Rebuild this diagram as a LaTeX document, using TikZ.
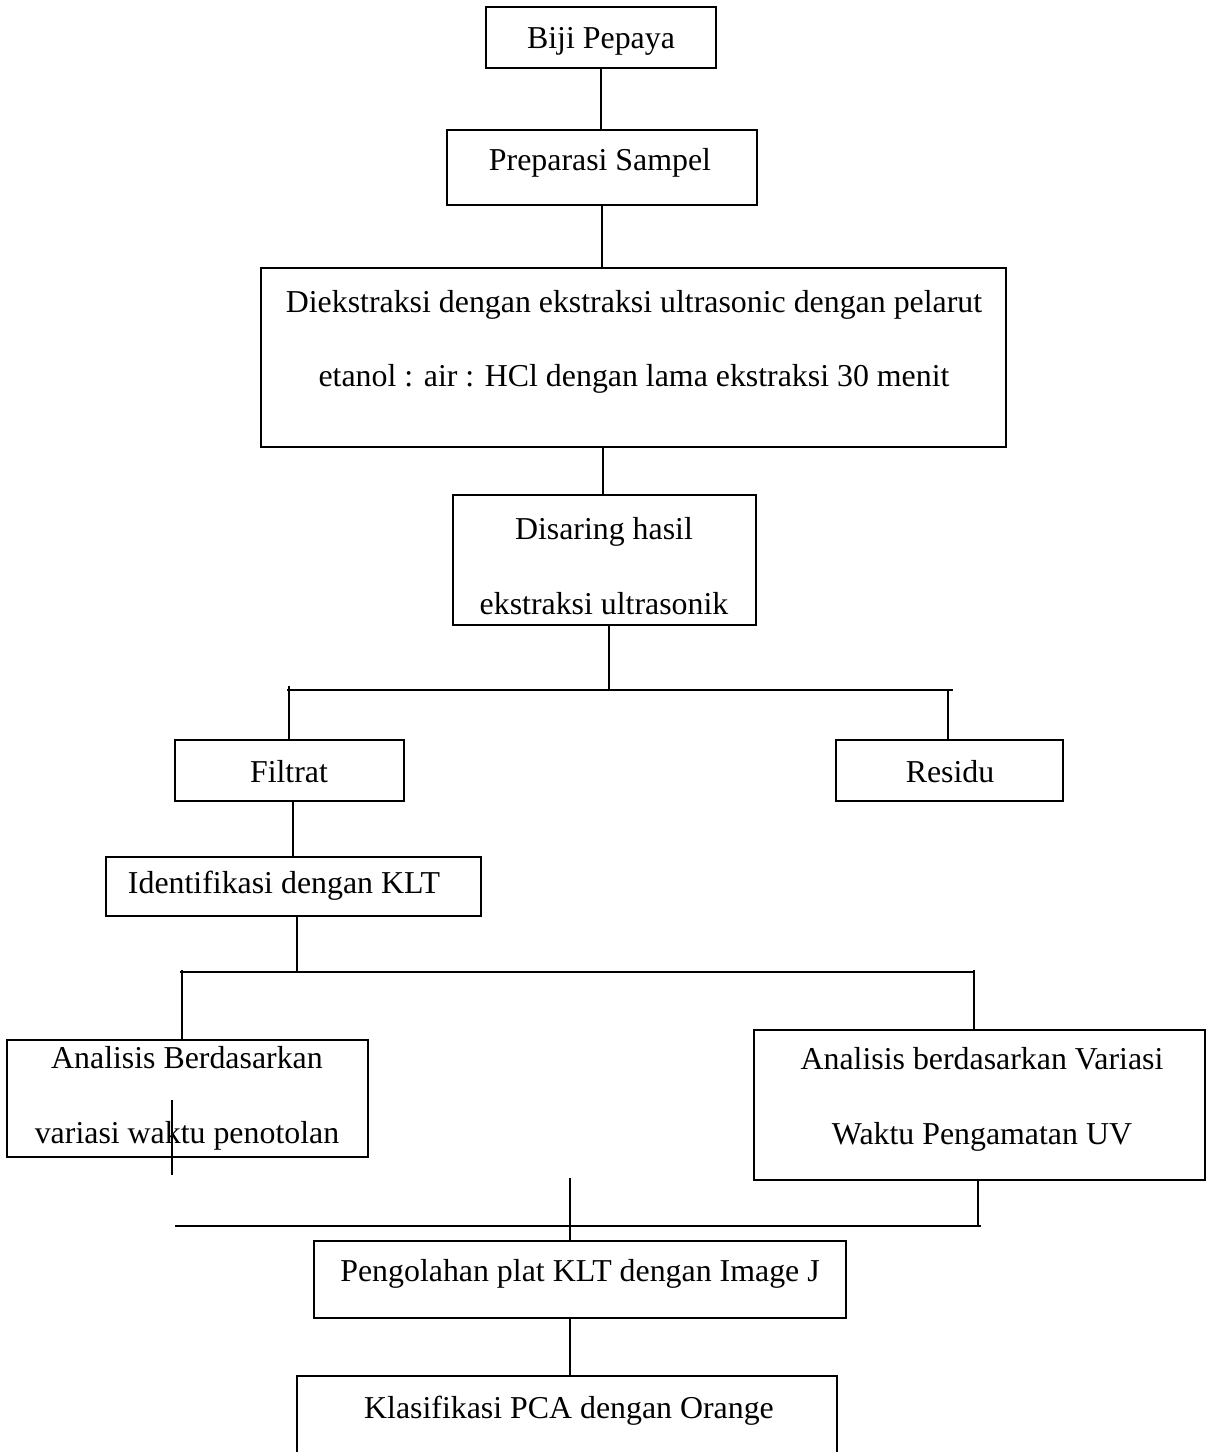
\documentclass[tikz,border=0pt]{standalone}
\usepackage{fontspec}
\setmainfont{Liberation Serif}
\usetikzlibrary{positioning,calc}
\newcommand{\pxl}{0.408pt}
\tikzset{
    flowbox/.style={draw=black,line width=0.9pt,rectangle,inner sep=0pt},
    boxtext/.style={font=\fontsize{13}{30.5}\selectfont,align=center,inner sep=0pt},
    linkline/.style={draw=black,line width=0.45pt}
}

\begin{document}
\begin{tikzpicture}[x=\pxl,y=-\pxl]
  \useasboundingbox (0,0) rectangle (1207,1452);
  % boxes
  \node[flowbox,minimum width=230*\pxl,minimum height=61*\pxl] (biji) at (601,37.5) {};
  \node[flowbox,minimum width=310*\pxl,minimum height=75*\pxl] (prep) at (602,167.5) {};
  \node[flowbox,minimum width=745*\pxl,minimum height=179*\pxl] (ekstrak) at (633.5,357.5) {};
  \node[flowbox,minimum width=303*\pxl,minimum height=130*\pxl] (saring) at (604.5,560) {};
  \node[flowbox,minimum width=229*\pxl,minimum height=61*\pxl] (filtrat) at (289.5,770.5) {};
  \node[flowbox,minimum width=227*\pxl,minimum height=61*\pxl] (residu) at (949.5,770.5) {};
  \node[flowbox,minimum width=375*\pxl,minimum height=59*\pxl] (klt) at (293.5,886.5) {};
  \node[flowbox,minimum width=361*\pxl,minimum height=117*\pxl] (waktu) at (187.5,1098.5) {};
  \node[flowbox,minimum width=451*\pxl,minimum height=150*\pxl] (uv) at (979.5,1105) {};
  \node[flowbox,minimum width=532*\pxl,minimum height=77*\pxl] (olah) at (580,1279.5) {};
  \node[flowbox,minimum width=540*\pxl,minimum height=130*\pxl] (pca) at (567,1441) {};
  % texts
  \node[boxtext] (biji-t) at (601,41) {Biji Pepaya};
  \node[boxtext] (prep-t) at (600,163) {Preparasi Sampel};
  \node[boxtext] (ekstrak-t) at (634,342) {Diekstraksi dengan ekstraksi ultrasonic dengan pelarut\\
    etanol : air : HCl dengan lama ekstraksi 30 menit};
  \node[boxtext] (saring-t) at (604,566) {Disaring hasil\\ ekstraksi ultrasonik};
  \node[boxtext] (filtrat-t) at (289,772) {Filtrat};
  \node[boxtext] (residu-t) at (950,772) {Residu};
  \node[boxtext] (klt-t) at (284,886) {Identifikasi dengan KLT};
  \node[boxtext] (waktu-t) at (187,1098.5) {Analisis Berdasarkan\\ variasi waktu penotolan};
  \node[boxtext] (uv-t) at (982,1099.5) {Analisis berdasarkan Variasi\\ Waktu Pengamatan UV};
  \node[boxtext] (olah-t) at (580,1274) {Pengolahan plat KLT dengan Image J};
  \node[boxtext] (pca-t) at (569,1411) {Klasifikasi PCA dengan Orange};
  % free ends of the connectors
  \coordinate (split1) at (609,690);
  \coordinate (bar1l) at (287,690);
  \coordinate (bar1r) at (953,690);
  \coordinate (split2) at (297,972);
  \coordinate (bar2l) at (180,972);
  \coordinate (bar2r) at (975,972);
  \coordinate (bar3l) at (175,1226);
  \coordinate (bar3r) at (981,1226);
  \coordinate (stray) at (172,1100);
  \coordinate (join3) at (570,1178);
  % connectors
  \draw[linkline] (biji.south) -- (biji.south |- prep.north);
  \draw[linkline] (prep.south) -- (prep.south |- ekstrak.north);
  \draw[linkline] (saring.north -| 603,0) -- (603,0 |- ekstrak.south);
  \draw[linkline] (split1 |- saring.south) -- (split1);
  \draw[linkline] (bar1l) -- (bar1r);
  \draw[linkline] (289,686) -- (289,0 |- filtrat.north);
  \draw[linkline] (948,690) -- (948,0 |- residu.north);
  \draw[linkline] (filtrat.south -| 293,0) -- (293,0 |- klt.north);
  \draw[linkline] (split2 |- klt.south) -- (split2);
  \draw[linkline] (bar2l) -- (bar2r);
  \draw[linkline] (182,970) -- (182,0 |- waktu.north);
  \draw[linkline] (974,970) -- (974,0 |- uv.north);
  \draw[linkline] (stray) -- (172,1175);
  \draw[linkline] (join3) -- (join3 |- olah.north);
  \draw[linkline] (bar3l) -- (bar3r);
  \draw[linkline] (978,0 |- uv.south) -- (978,1226);
  \draw[linkline] (570,0 |- olah.south) -- (570,0 |- pca.north);
\end{tikzpicture}
\end{document}
